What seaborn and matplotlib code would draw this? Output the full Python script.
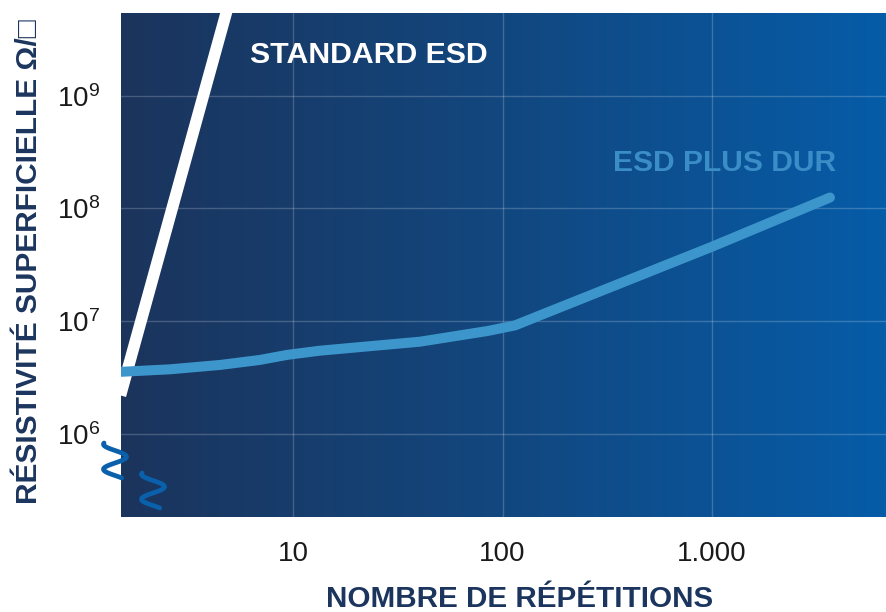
import numpy as np
import pandas as pd
import matplotlib
matplotlib.use("Agg")
import matplotlib.pyplot as plt
from matplotlib.colors import LinearSegmentedColormap
from matplotlib.lines import Line2D
import seaborn as sns

# ---- data ----
std_x = [1.5, 5.5]
std_y = [2.2e6, 1.35e10]

dur_x = [1.5, 2.59, 4.49, 6.95, 9.36, 13.4, 40.4, 85, 115, 146, 210, 1000, 3656]
dur_y = [3.56e6, 3.75e6, 4.10e6, 4.54e6, 5.03e6, 5.48e6, 6.59e6, 8.2e6, 9.2e6, 1.10e7, 1.44e7, 4.58e7, 1.25e8]

x_ticks = [10, 100, 1000]
x_tick_labels = ["10", "100", "1.000"]
y_ticks = [1e6, 1e7, 1e8, 1e9]

label_std = "STANDARD ESD"
label_dur = "ESD PLUS DUR"
x_label = "NOMBRE DE RÉPÉTITIONS"
y_label = "RÉSISTIVITÉ SUPERFICIELLE Ω/□"

# ---- style ----
sns.set_style("white")
plt.rcParams['font.family'] = ['Liberation Sans', 'DejaVu Sans']
plt.rcParams['mathtext.fontset'] = 'custom'
plt.rcParams['mathtext.rm'] = 'Liberation Sans'
plt.rcParams['mathtext.it'] = 'Liberation Sans'

W, H = 886, 612
fig = plt.figure(figsize=(W / 100, H / 100), dpi=100)
ax = fig.add_axes([121 / W, 1 - 517 / H, (886 - 121) / W, (517 - 13) / H])

ax.set_xscale('log')
ax.set_yscale('log')

# gradient background
cmap = LinearSegmentedColormap.from_list("bg", ["#1b345c", "#12477f", "#065ca8"])
grad = np.linspace(0, 1, 256).reshape(1, -1)
ax.imshow(grad, cmap=cmap, extent=[0, 1, 0, 1], transform=ax.transAxes,
          aspect='auto', zorder=0, interpolation='bilinear')

# lines
df_std = pd.DataFrame({"x": std_x, "y": std_y})
df_dur = pd.DataFrame({"x": dur_x, "y": dur_y})
sns.lineplot(data=df_std, x="x", y="y", ax=ax, color="white", lw=8.4,
             solid_capstyle='butt', zorder=3)
sns.lineplot(data=df_dur, x="x", y="y", ax=ax, color="#3c96cc", lw=7.2,
             solid_capstyle='round', solid_joinstyle='round', zorder=3)
ax.set_xlim(1.51, 6768)
ax.set_ylim(1.84e5, 5.4e9)
ax.set_xlabel("")
ax.set_ylabel("")

# grid / ticks
ax.set_xticks(x_ticks)
ax.set_xticklabels(x_tick_labels)
ax.set_yticks(y_ticks)
ax.minorticks_off()
ax.grid(True, which='major', color='white', alpha=0.2, lw=1.0)
for gl in ax.get_xgridlines() + ax.get_ygridlines():
    gl.set_zorder(1)

for s in ax.spines.values():
    s.set_visible(False)

ax.tick_params(axis='both', length=0, labelsize=20, colors='#1a1a1a')
ax.tick_params(axis='x', pad=17)
ax.tick_params(axis='y', pad=15)

# labels in plot
ax.text((250 - 121) / 765, 1 - (55 - 13) / 504, label_std, transform=ax.transAxes,
        color='white', fontsize=21.8, fontweight='bold', ha='left', va='center', zorder=4)
ax.text((612.7 - 121) / 765, 1 - (163.3 - 13) / 504, label_dur, transform=ax.transAxes,
        color='#3a8dc6', fontsize=21.6, fontweight='bold', ha='left', va='center', zorder=4)

# axis titles
fig.text(519.5 / W, 1 - 599 / H, x_label, color='#1b355e', fontsize=21.3,
         fontweight='bold', ha='center', va='center')
fig.text(29 / W, 1 - 262 / H, y_label, color='#1b355e', fontsize=21.5,
         fontweight='bold', ha='center', va='center', rotation=90)

# axis-break squiggles (decoration)
theta = np.linspace(-0.6 * np.pi, 2.2 * np.pi, 120)
k = 35 / (2.8 * np.pi)
for cx, y0 in [(115, 443), (153, 473)]:
    px = cx + 11.5 * np.sin(theta)
    py = y0 + (theta + 0.6 * np.pi) * k
    fig.add_artist(Line2D(px / W, 1 - py / H, transform=fig.transFigure,
                          color='#0a60aa', lw=3.4, solid_capstyle='round', zorder=10))

fig.savefig("out.png", dpi=100, facecolor='white')
